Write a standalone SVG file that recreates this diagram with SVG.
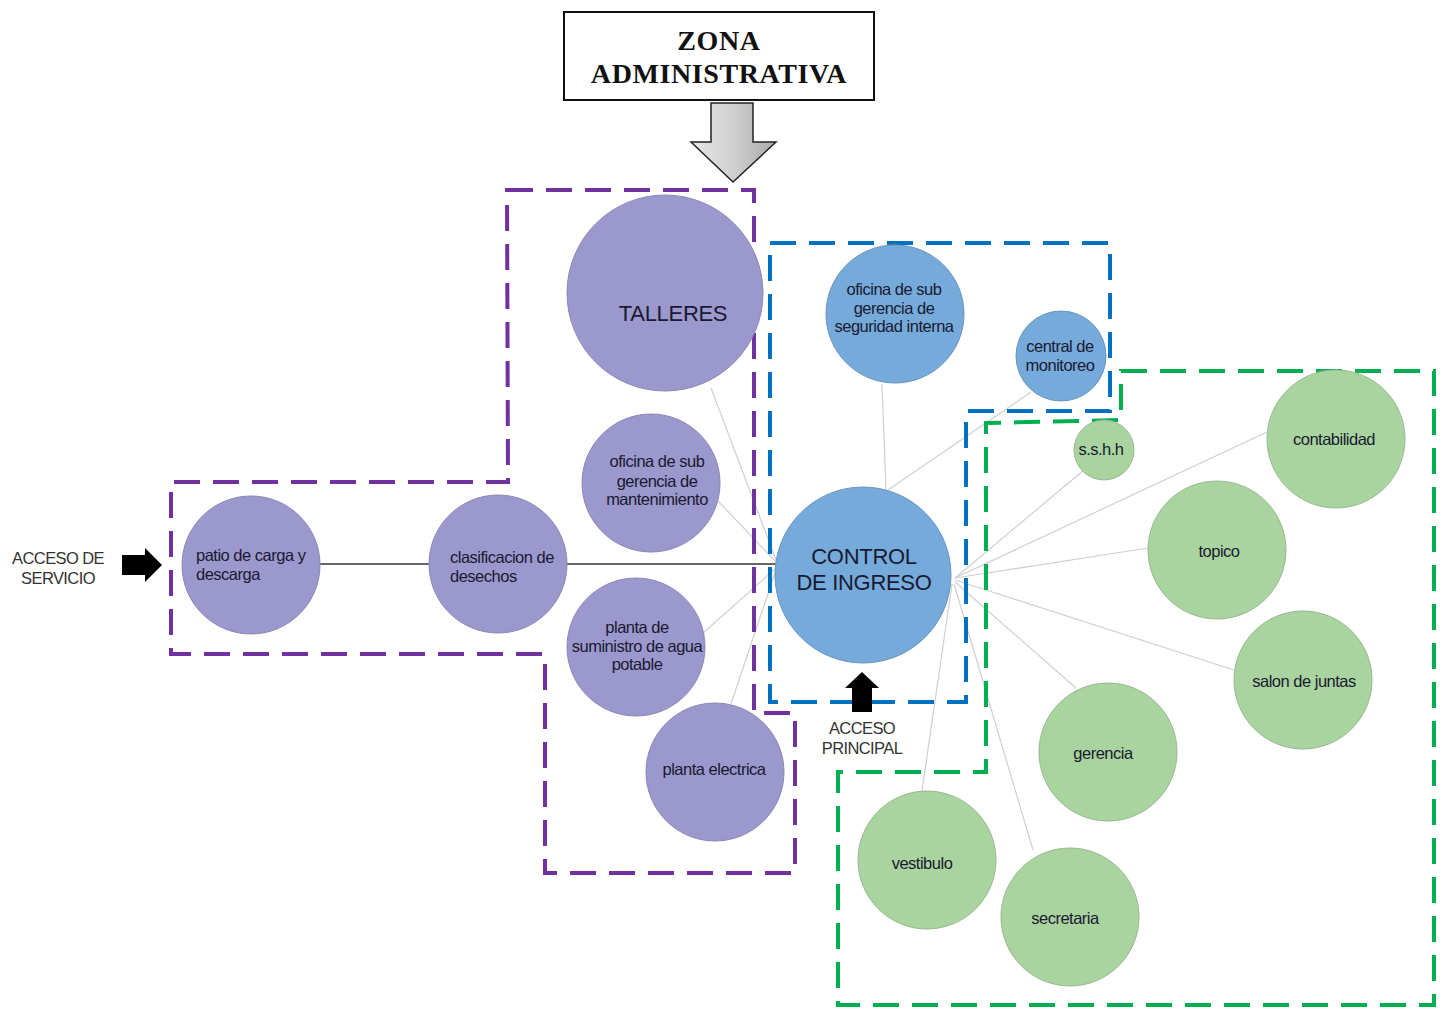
<svg xmlns="http://www.w3.org/2000/svg" width="1446" height="1009" viewBox="0 0 1446 1009">
  <defs>
    <linearGradient id="grayArrow" x1="0" y1="0" x2="1" y2="0">
      <stop offset="0" stop-color="#e6e6e6"/>
      <stop offset="0.5" stop-color="#d0d0d0"/>
      <stop offset="1" stop-color="#a9a9a9"/>
    </linearGradient>
    <style>
      .purple { fill: #9a98cc; stroke: #8a88b4; stroke-width: 1; }
      .blue { fill: #75aadb; stroke: #6a94bd; stroke-width: 1; }
      .green { fill: #a9d49f; stroke: #98b890; stroke-width: 1; }
      .lbl { font-family: "Liberation Sans", Arial, sans-serif; font-size: 16.5px; fill: #1a1a30; text-anchor: middle; letter-spacing: -0.5px; }
      .lbl.start { text-anchor: start; }
      .big { font-size: 22px; letter-spacing: -0.3px; }
      .link { stroke: #cfcfcf; stroke-width: 1.2; fill: none; }
      .main { stroke: #333; stroke-width: 1.6; fill: none; }
      .zone { fill: none; stroke-width: 4; stroke-dasharray: 26 13; }
      .acc { font-family: "Liberation Sans", Arial, sans-serif; font-size: 16.5px; fill: #333; text-anchor: middle; letter-spacing: -0.6px; }
      .head { font-family: "Liberation Serif", "Times New Roman", serif; font-weight: bold; font-size: 28px; text-anchor: middle; fill: #111; letter-spacing: 0.6px; }
    </style>
  </defs>
  <rect width="1446" height="1009" fill="#ffffff"/>

  <!-- header box and pointer -->
  <g id="zona-administrativa">
    <rect x="564" y="12" width="310" height="88" fill="#fff" stroke="#111" stroke-width="2"/>
    <text class="head" x="719" y="50">ZONA</text>
    <text class="head" x="719" y="83">ADMINISTRATIVA</text>
    <path d="M711 103 H753 V142 H776 L733 182 L691 142 H711 Z" fill="url(#grayArrow)" stroke="#222" stroke-width="1.5"/>
  </g>

  <!-- connectors -->
  <g id="connectors">
    <line class="main" x1="320" y1="564" x2="430" y2="564"/>
    <line class="main" x1="567" y1="564" x2="776" y2="564"/>
    <line class="link" x1="711" y1="388" x2="776" y2="560"/>
    <line class="link" x1="718" y1="501" x2="776" y2="562"/>
    <line class="link" x1="702" y1="634" x2="776" y2="568"/>
    <line class="link" x1="731" y1="704" x2="776" y2="570"/>
    <line class="link" x1="882" y1="384" x2="886" y2="490"/>
    <line class="link" x1="1031" y1="392" x2="888" y2="490"/>
    <line class="link" x1="1084" y1="470" x2="955" y2="578"/>
    <line class="link" x1="1267" y1="432" x2="955" y2="578"/>
    <line class="link" x1="1148" y1="548" x2="955" y2="578"/>
    <line class="link" x1="1234" y1="670" x2="955" y2="580"/>
    <line class="link" x1="1076" y1="688" x2="955" y2="582"/>
    <line class="link" x1="1033" y1="850" x2="954" y2="584"/>
    <line class="link" x1="922" y1="791" x2="952" y2="584"/>
  </g>

  <!-- zone outlines -->
  <g id="zones">
    <path class="zone" stroke="#7030a0" d="M507 190 H754 V713 H795 V873 H545 V654 H171 V482 H508 Z"/>
    <path class="zone" stroke="#0070c0" d="M770 243 H1110 V411 H966 V702 H770 Z"/>
    <path class="zone" stroke="#00b050" d="M1121 371 H1434 V1005 H838 V772 H986 V423 L1121 420 Z"/>
  </g>

  <!-- access markers -->
  <g id="acceso-servicio">
    <text class="acc" x="58" y="564">ACCESO DE</text>
    <text class="acc" x="58" y="584">SERVICIO</text>
    <path d="M122 555 H145 V548 L162 565 L145 582 V575 H122 Z" fill="#000"/>
  </g>
  <g id="acceso-principal">
    <path d="M862 672 L879 688 H872 V712 H852 V688 H845 Z" fill="#000"/>
    <text class="acc" x="862" y="734">ACCESO</text>
    <text class="acc" x="862" y="754">PRINCIPAL</text>
  </g>

  <!-- purple nodes -->
  <g id="talleres">
    <circle class="purple" cx="665" cy="293" r="98"/>
    <text class="lbl big" x="673" y="321">TALLERES</text>
  </g>
  <g id="mantenimiento">
    <circle class="purple" cx="651" cy="483" r="69"/>
    <text class="lbl" x="657" y="467">oficina de sub</text>
    <text class="lbl" x="657" y="487">gerencia de</text>
    <text class="lbl" x="657" y="505">mantenimiento</text>
  </g>
  <g id="patio">
    <circle class="purple" cx="251" cy="565" r="69"/>
    <text class="lbl start" x="196" y="561">patio de carga y</text>
    <text class="lbl start" x="196" y="580">descarga</text>
  </g>
  <g id="clasificacion">
    <circle class="purple" cx="498" cy="564" r="69"/>
    <text class="lbl start" x="450" y="563">clasificacion de</text>
    <text class="lbl start" x="450" y="582">desechos</text>
  </g>
  <g id="agua">
    <circle class="purple" cx="636" cy="647" r="69"/>
    <text class="lbl" x="637" y="633">planta de</text>
    <text class="lbl" x="637" y="652">suministro de agua</text>
    <text class="lbl" x="637" y="670">potable</text>
  </g>
  <g id="electrica">
    <circle class="purple" cx="715" cy="772" r="69"/>
    <text class="lbl" x="714" y="775">planta electrica</text>
  </g>

  <!-- blue nodes -->
  <g id="seguridad">
    <circle class="blue" cx="895" cy="314" r="69"/>
    <text class="lbl" x="894" y="295">oficina de sub</text>
    <text class="lbl" x="894" y="314">gerencia de</text>
    <text class="lbl" x="894" y="332">seguridad interna</text>
  </g>
  <g id="monitoreo">
    <circle class="blue" cx="1061" cy="356" r="45"/>
    <text class="lbl" x="1060" y="352">central de</text>
    <text class="lbl" x="1060" y="371">monitoreo</text>
  </g>
  <g id="control">
    <circle class="blue" cx="863" cy="575" r="88"/>
    <text class="lbl big" x="864" y="564">CONTROL</text>
    <text class="lbl big" x="864" y="590">DE INGRESO</text>
  </g>

  <!-- green nodes -->
  <g id="sshh">
    <circle class="green" cx="1104" cy="450" r="30"/>
    <text class="lbl" x="1101" y="455">s.s.h.h</text>
  </g>
  <g id="contabilidad">
    <circle class="green" cx="1336" cy="439" r="69"/>
    <text class="lbl" x="1334" y="445">contabilidad</text>
  </g>
  <g id="topico">
    <circle class="green" cx="1217" cy="550" r="69"/>
    <text class="lbl" x="1219" y="557">topico</text>
  </g>
  <g id="salon">
    <circle class="green" cx="1303" cy="680" r="69"/>
    <text class="lbl" x="1304" y="687">salon de juntas</text>
  </g>
  <g id="gerencia">
    <circle class="green" cx="1108" cy="752" r="69"/>
    <text class="lbl" x="1103" y="759">gerencia</text>
  </g>
  <g id="vestibulo">
    <circle class="green" cx="927" cy="860" r="69"/>
    <text class="lbl" x="922" y="869">vestibulo</text>
  </g>
  <g id="secretaria">
    <circle class="green" cx="1070" cy="917" r="69"/>
    <text class="lbl" x="1065" y="924">secretaria</text>
  </g>
</svg>
